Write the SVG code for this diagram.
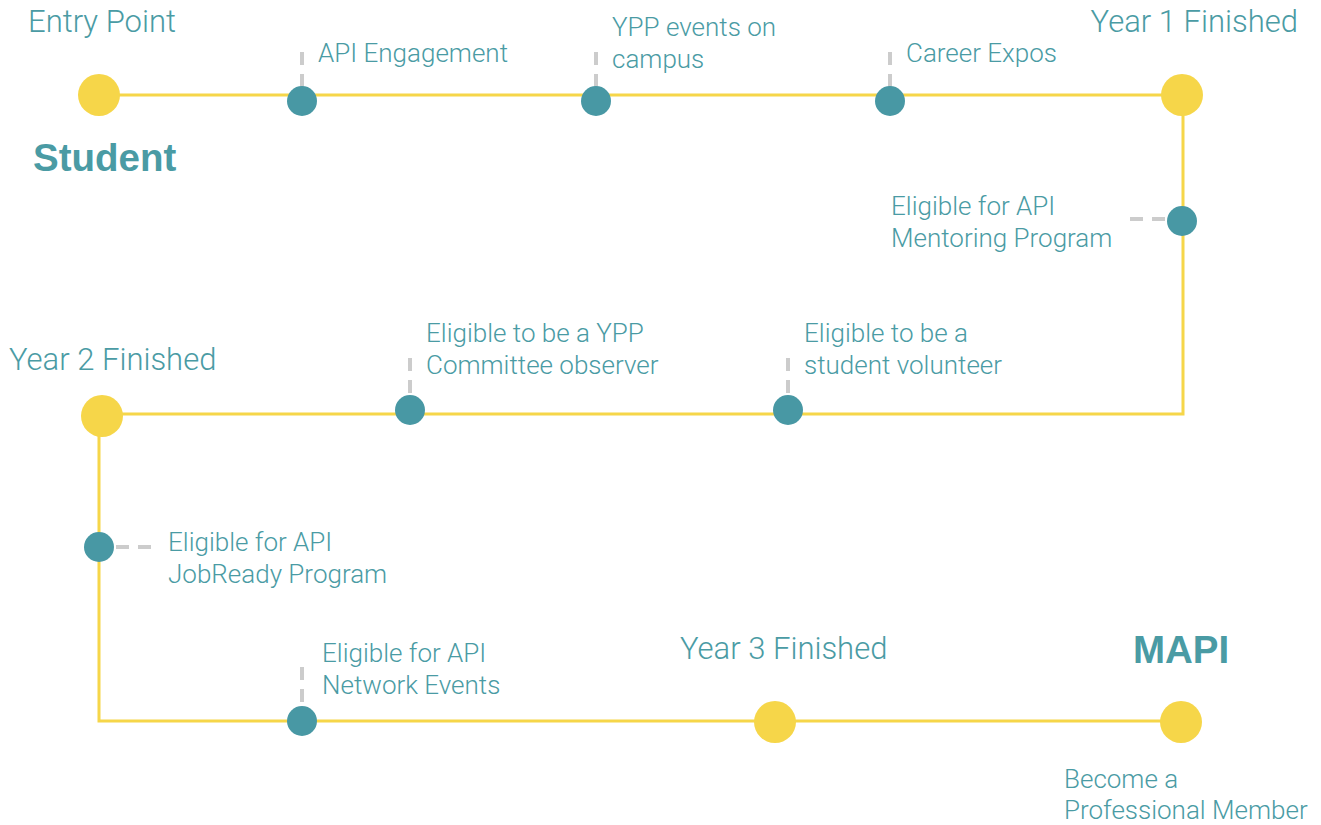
<svg xmlns="http://www.w3.org/2000/svg" width="1321" height="825" viewBox="0 0 1321 825">
<style>
.t{font-family:Roboto,"Liberation Sans",sans-serif;font-weight:300;fill:#4a9ba4;font-size:26px}
.big{font-size:31px}
.b{font-family:"Liberation Sans",Arial,sans-serif;font-weight:bold;fill:#4a9ba4;font-size:38.5px}
.y{fill:#f6d649}
.c{fill:#4898a4}
.line{stroke:#f6d649;stroke-width:3;fill:none}
.d{stroke:#cccccc;stroke-width:4;stroke-dasharray:13 9;fill:none}
</style>
<rect width="1321" height="825" fill="#ffffff"/>
<g id="connectors">
<path class="line" d="M99 95 H1183 V414 H99 V721 H1181"/>
<path class="d" d="M302 52 V88"/>
<path class="d" d="M596 52 V88"/>
<path class="d" d="M890 52 V88"/>
<path class="d" d="M1130 219 H1168"/>
<path class="d" d="M410 358 V397"/>
<path class="d" d="M788 358 V397"/>
<path class="d" d="M151 547 H113"/>
<path class="d" d="M302 667 V706"/>
</g>
<g id="entry"><circle class="y" cx="99" cy="95" r="21"/><text class="t big" x="28" y="32">Entry Point</text><text class="b" x="33" y="171">Student</text></g>
<g id="api-engagement"><circle class="c" cx="302" cy="101" r="15"/><text class="t" x="318" y="62">API Engagement</text></g>
<g id="ypp-events"><circle class="c" cx="596" cy="101" r="15"/><text class="t" x="612" y="36">YPP events on</text><text class="t" x="612" y="68">campus</text></g>
<g id="career-expos"><circle class="c" cx="890" cy="101" r="15"/><text class="t" x="906" y="62">Career Expos</text></g>
<g id="year1"><circle class="y" cx="1182" cy="95" r="21"/><text class="t big" x="1298" y="32" text-anchor="end">Year 1 Finished</text></g>
<g id="mentoring"><circle class="c" cx="1182" cy="221" r="15"/><text class="t" x="891" y="215">Eligible for API</text><text class="t" x="891" y="247">Mentoring Program</text></g>
<g id="student-volunteer"><circle class="c" cx="788" cy="410" r="15"/><text class="t" x="804" y="342">Eligible to be a</text><text class="t" x="804" y="374">student volunteer</text></g>
<g id="ypp-observer"><circle class="c" cx="410" cy="410" r="15"/><text class="t" x="426" y="342">Eligible to be a YPP</text><text class="t" x="426" y="374">Committee observer</text></g>
<g id="year2"><circle class="y" cx="102" cy="416" r="21"/><text class="t big" x="9" y="370">Year 2 Finished</text></g>
<g id="jobready"><circle class="c" cx="99" cy="547" r="15"/><text class="t" x="168" y="551">Eligible for API</text><text class="t" x="168" y="583">JobReady Program</text></g>
<g id="network"><circle class="c" cx="302" cy="721" r="15"/><text class="t" x="322" y="662">Eligible for API</text><text class="t" x="322" y="694">Network Events</text></g>
<g id="year3"><circle class="y" cx="775" cy="722" r="21"/><text class="t big" x="680" y="659">Year 3 Finished</text></g>
<g id="mapi"><circle class="y" cx="1181" cy="722" r="21"/><text class="b" x="1133" y="663">MAPI</text><text class="t" x="1064" y="788">Become a</text><text class="t" x="1064" y="819">Professional Member</text></g>
</svg>
